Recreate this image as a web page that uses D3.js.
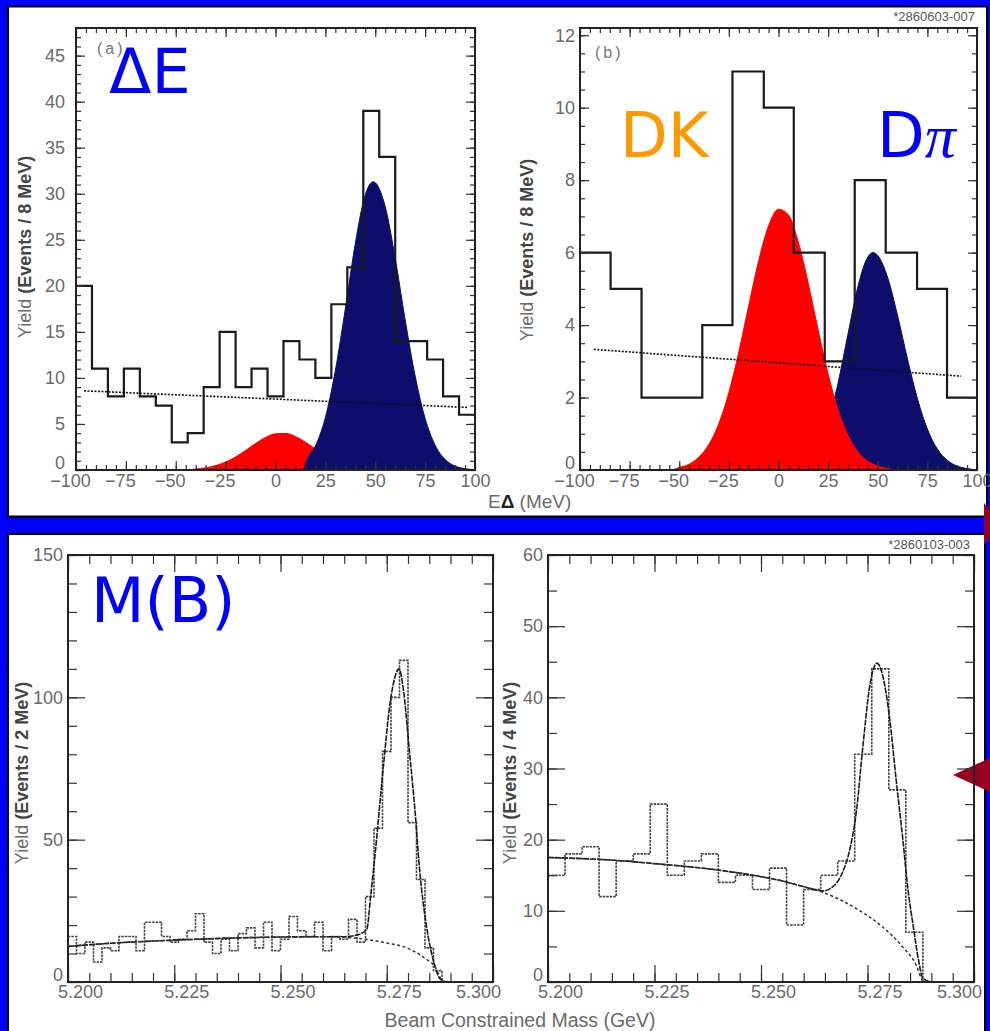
<!DOCTYPE html>
<html>
<head>
<meta charset="utf-8">
<script src="https://cdn.jsdelivr.net/npm/d3@7"></script>
<style>
body{margin:0;background:#0000ff;}
svg{display:block;}
</style>
</head>
<body>
<div id="chart"></div>
<script>
// ---- data ----

// (a) Delta E, 8 MeV bins from -100
var aLo=-100, aBin=8;
var aCounts=[20,11,8,11,8,7,3,4,9,15,9,11,8,14,12,10,18,22,39,34,14,14,12,8,6];
var aBkg=[[-96,8.6],[0,7.7],[96,6.8]];
var aDK=[[-100,0],[-45,0],[-40,0.11],[-35,0.24],[-30,0.48],[-25,0.87],[-20,1.42],[-15,2.12],[-10,2.88],[-5,3.53],[0,3.93],[5,3.97],[10,3.64],[15,3.02],[20,2.28],[25,1.56],[30,0.96],[35,0.54],[40,0.28],[45,0.12],[50,0]];
var aDpi=[[14,0],[16,1.2],[20,2.6],[25,5.7],[30,10.8],[35,17.5],[40,24.6],[45,29.9],[49,31.3],[55,28.6],[60,23.0],[65,16.3],[70,10.2],[75,5.6],[80,2.7],[85,1.15],[90,0.43],[95,0.14],[100,0.04]];

// (b) Delta E, wider bins
var bEdges=[-100,-84.6,-69,-53.9,-38.4,-23.2,-7.4,7.7,23.3,38.4,54,69.8,84.9,100];
var bCounts=[6,5,2,2,4,11,10,6,3,8,6,5,2];
var bBkg=[[-93,3.33],[92,2.59]];
var bDK=[[-100,0],[-55,0],[-50,0.07],[-45,0.16],[-40,0.36],[-35,0.71],[-30,1.29],[-25,2.14],[-20,3.26],[-15,4.54],[-10,5.78],[-5,6.74],[0,7.2],[5,7.04],[10,6.29],[15,5.15],[20,3.86],[25,2.65],[30,1.66],[35,0.96],[40,0.5],[45,0.24],[50,0.11],[55,0.04],[60,0]];
var bDpi=[[10,0],[15,0.26],[20,0.63],[25,1.32],[30,2.4],[35,3.75],[40,5.06],[45,5.88],[47.6,6.0],[50,5.92],[55,5.31],[60,4.26],[65,3.06],[70,1.97],[75,1.13],[80,0.58],[85,0.27],[90,0.11],[95,0.04],[100,0]];

// (c) beam constrained mass, 2 MeV bins from 5.200
var cLo=5.2, cBin=0.002;
var cCounts=[16,10,14,7,12,11,16,16,11,21,21,16,14,15,18,24,14,10,15,11,17,19,12,21,11,15,23,18,16,21,11,16,15,22,14,30,54,81,100,113,56,36,12,4,0,0,0,0,0,0];
var cBkg=[[5.200,12.5],[5.210,13.6],[5.220,14.4],[5.230,15.0],[5.240,15.5],[5.250,15.8],[5.260,15.9],[5.265,15.7],[5.270,15.0],[5.275,13.7],[5.280,11.8],[5.284,8.3],[5.2865,5.0],[5.2878,1.0],[5.2885,0]];
var cFit=[[5.200,12.5],[5.210,13.6],[5.220,14.4],[5.230,15.0],[5.240,15.5],[5.250,15.8],[5.260,15.9],[5.265,15.9],[5.268,16.5],[5.2703,18.5],[5.2712,30],[5.2722,44],[5.2741,74],[5.2757,97],[5.2769,107],[5.2779,110],[5.2788,104],[5.2804,80],[5.2816,61],[5.2827,40],[5.2843,20],[5.2859,8],[5.2875,1.2],[5.289,0]];

// (d) beam constrained mass, 4 MeV bins from 5.200
var dLo=5.2, dBin=0.004;
var dCounts=[15,18,19,12,17,18,25,15,17,18,14,15,13,16,8,13,15,17,32,44,27,7,0,0,0];
var dBkg=[[5.200,17.5],[5.2156,17.1],[5.2257,16.6],[5.239,15.8],[5.250,14.8],[5.255,14.2],[5.260,13.4],[5.2645,12.6],[5.2724,10.3],[5.2786,7.7],[5.2833,4.9],[5.2865,2.3],[5.2879,0.2],[5.2885,0]];
var dFit=[[5.200,17.5],[5.2156,17.1],[5.2257,16.6],[5.239,15.8],[5.250,14.8],[5.255,14.2],[5.260,13.4],[5.2645,12.8],[5.2669,13.4],[5.2692,15.5],[5.2708,18.5],[5.2724,24],[5.2739,33],[5.2755,41.5],[5.2772,44.8],[5.2786,43],[5.2802,37],[5.2818,28],[5.2833,20],[5.2845,13],[5.2857,8],[5.2870,3],[5.2880,0.5],[5.2900,0]];

// tick values
var deTicks=[-100,-75,-50,-25,0,25,50,75,100];
var mbTicks=[5.200,5.225,5.250,5.275,5.300];
var aYTicks=[0,5,10,15,20,25,30,35,40,45];
var bYTicks=[0,2,4,6,8,10,12];
var cYTicks=[0,50,100,150];
var dYTicks=[0,10,20,30,40,50,60];

// ---- drawing ----
var W=990, H=1031;
var FONT='"Liberation Sans", Arial, sans-serif';
var BIG='"DejaVu Sans", Verdana, sans-serif';
var svg=d3.select("#chart").append("svg").attr("width",W).attr("height",H);

svg.append("rect").attr("width",W).attr("height",H).attr("fill","#0000ff");
// the two white boards
svg.append("rect").attr("x",8).attr("y",6.5).attr("width",979).attr("height",510)
  .attr("fill","#fff").attr("stroke","#000").attr("stroke-width",2);
svg.append("rect").attr("x",8).attr("y",534).attr("width",977).attr("height",510)
  .attr("fill","#fff").attr("stroke","#000").attr("stroke-width",2);

// dark red arrows on the right edge
svg.append("polygon").attr("points","984,503 1000,523 984,545").attr("fill","#990022");
svg.append("polygon").attr("points","953,775 992,757 992,793").attr("fill","#990022");

function steps(lo, bin, counts){
  var pts=counts.map(function(c,i){ return [lo+i*bin, c]; });
  pts.push([lo+counts.length*bin, counts[counts.length-1]]);
  return pts;
}
function stepsEdges(edges, counts){
  var pts=counts.map(function(c,i){ return [edges[i], c]; });
  pts.push([edges[edges.length-1], counts[counts.length-1]]);
  return pts;
}

function panel(c){
  var g=svg.append("g");
  var x=d3.scaleLinear().domain(c.xDomain).range([c.left,c.right]);
  var y=d3.scaleLinear().domain(c.yDomain).range([c.bottom,c.top]);
  var line=d3.line().x(function(d){return x(d[0]);}).y(function(d){return y(d[1]);});
  var area=d3.area().x(function(d){return x(d[0]);}).y0(y(0)).y1(function(d){return y(d[1]);})
    .curve(d3.curveMonotoneX);

  (c.fills||[]).forEach(function(f){
    g.append("path").datum(f.data).attr("d",area).attr("fill",f.color)
      .attr("stroke",f.color).attr("stroke-width",1);
  });

  g.append("path").datum(c.hist).attr("d",line.curve(d3.curveStepAfter))
    .attr("fill","none").attr("stroke",c.histColor).attr("stroke-width",c.histWidth)
    .attr("stroke-dasharray",c.histDash||null);

  (c.lines||[]).forEach(function(l){
    g.append("path").datum(l.data).attr("d",line.curve(l.curve||d3.curveMonotoneX))
      .attr("fill","none").attr("stroke",l.color||"#111").attr("stroke-width",l.width||1.5)
      .attr("stroke-dasharray",l.dash||null);
  });

  function clean(s){
    s.select(".domain").remove();
    s.selectAll("line").attr("stroke","#333").attr("stroke-width",1.2);
    s.attr("font-family",FONT);
  }
  // minor ticks on all four sides, pointing in
  g.append("g").attr("transform","translate(0,"+c.bottom+")")
    .call(d3.axisBottom(x).tickValues(c.xMinor).tickSize(-c.minLen).tickFormat("")).call(clean);
  g.append("g").attr("transform","translate(0,"+c.top+")")
    .call(d3.axisTop(x).tickValues(c.xMinor).tickSize(-c.minLen).tickFormat("")).call(clean);
  g.append("g").attr("transform","translate("+c.left+",0)")
    .call(d3.axisLeft(y).tickValues(c.yMinor).tickSize(-c.minLen).tickFormat("")).call(clean);
  g.append("g").attr("transform","translate("+c.right+",0)")
    .call(d3.axisRight(y).tickValues(c.yMinor).tickSize(-c.minLen).tickFormat("")).call(clean);
  // major ticks
  g.append("g").attr("transform","translate(0,"+c.top+")")
    .call(d3.axisTop(x).tickValues(c.xMajor).tickSize(-c.majLen).tickFormat("")).call(clean);
  g.append("g").attr("transform","translate("+c.right+",0)")
    .call(d3.axisRight(y).tickValues(c.yMajor).tickSize(-c.majLen).tickFormat("")).call(clean);
  var xb=g.append("g").attr("transform","translate(0,"+c.bottom+")")
    .call(d3.axisBottom(x).tickValues(c.xMajor).tickSize(-c.majLen).tickPadding(c.xPad).tickFormat(c.xFmt))
    .call(clean);
  xb.selectAll("text").attr("font-size",18).attr("fill","#6a6a6a").attr("dx",c.xDx);
  var yl=g.append("g").attr("transform","translate("+c.left+",0)")
    .call(d3.axisLeft(y).tickValues(c.yMajor).tickSize(-c.majLen).tickPadding(c.yPad))
    .call(clean);
  yl.selectAll("text").attr("font-size",18).attr("fill","#6a6a6a")
    .attr("y",function(d){ return d===0 ? -7 : 0; });

  g.append("rect").attr("x",c.left).attr("y",c.top)
    .attr("width",c.right-c.left).attr("height",c.bottom-c.top)
    .attr("fill","none").attr("stroke","#222").attr("stroke-width",2);

  // y title
  var yt=g.append("text").attr("transform","translate("+c.yTitleX+","+c.yTitleY+") rotate(-90)")
    .attr("text-anchor","middle").attr("dy","0.35em").attr("font-family",FONT).attr("font-size",18);
  yt.append("tspan").attr("fill","#6a6a6a").text("Yield ");
  yt.append("tspan").attr("fill","#444").attr("font-weight","bold").text(c.yUnit);
  return g;
}

function deLabel(d){ return d<0 ? "\u2212"+(-d) : String(d); }
function deDx(d){ return d<0 ? -6 : 0; }
var mbFmt=d3.format(".3f");
function mbDx(d){ return d>5.29 ? -15 : 12; }

var topTick={majLen:9, minLen:5, xPad:4, histColor:"#1a1a1a", histWidth:2.2,
  xMinor:d3.range(-100,101,5), xMajor:deTicks, xFmt:deLabel, xDx:deDx};
var botTick={majLen:17, minLen:9, xPad:3, histColor:"#444", histWidth:1.6, histDash:"2.5,1",
  xMinor:d3.range(0,21).map(function(i){return 5.2+i*0.005;}), xMajor:mbTicks, xFmt:mbFmt,
  xDx:mbDx};

panel(Object.assign({}, topTick, {
  left:76, right:475, top:28, bottom:470, xDomain:[-100,100], yDomain:[0,48],
  yMinor:d3.range(0,49,1), yMajor:aYTicks, yPad:11,
  hist:steps(aLo,aBin,aCounts),
  fills:[{data:aDK,color:"#ff0000"},{data:aDpi,color:"#0d0d6b"}],
  lines:[{data:aBkg,dash:"2,1.5",width:1.6,curve:d3.curveLinear}],
  yTitleX:25, yTitleY:247, yUnit:"(Events / 8 MeV)"
}));
panel(Object.assign({}, topTick, {
  left:580, right:977, top:28, bottom:470, xDomain:[-100,100], yDomain:[0,12.2],
  yMinor:d3.range(0,12.2,0.5), yMajor:bYTicks, yPad:5,
  hist:stepsEdges(bEdges,bCounts),
  fills:[{data:bDpi,color:"#0d0d6b"},{data:bDK,color:"#ff0000"}],
  lines:[{data:bBkg,dash:"2,1.5",width:1.6,curve:d3.curveLinear}],
  yTitleX:527, yTitleY:250, yUnit:"(Events / 8 MeV)"
}));
panel(Object.assign({}, botTick, {
  left:68, right:493, top:555, bottom:982, xDomain:[5.2,5.3], yDomain:[0,150],
  yMinor:d3.range(0,151,10), yMajor:cYTicks, yPad:5,
  hist:steps(cLo,cBin,cCounts),
  lines:[{data:cFit,color:"#1a1a1a",width:1.6,dash:"6,1"},{data:cBkg,color:"#333",width:1.5,dash:"3,2.5"}],
  yTitleX:22, yTitleY:773, yUnit:"(Events / 2 MeV)"
}));
panel(Object.assign({}, botTick, {
  left:548, right:974, top:555, bottom:982, xDomain:[5.2,5.3], yDomain:[0,60],
  yMinor:d3.range(0,61,5), yMajor:dYTicks, yPad:5,
  hist:steps(dLo,dBin,dCounts),
  lines:[{data:dFit,color:"#1a1a1a",width:1.6,dash:"6,1"},{data:dBkg,color:"#333",width:1.5,dash:"3,2.5"}],
  yTitleX:510, yTitleY:773, yUnit:"(Events / 4 MeV)"
}));

// axis titles
var xt=svg.append("text").attr("x",488).attr("y",508).attr("font-family",FONT).attr("font-size",19);
xt.append("tspan").attr("fill","#6a6a6a").text("E");
xt.append("tspan").attr("fill","#222").attr("font-weight","bold").text("\u0394");
xt.append("tspan").attr("fill","#6a6a6a").text(" (MeV)");
svg.append("text").attr("x",520).attr("y",1027).attr("text-anchor","middle")
  .attr("font-family",FONT).attr("font-size",19.5).attr("fill","#6a6a6a")
  .text("Beam Constrained Mass (GeV)");

// panel tags and plot ids
svg.append("text").attr("x",97).attr("y",54).attr("font-family",FONT).attr("font-size",16)
  .attr("fill","#777").attr("letter-spacing",3).text("(a)");
svg.append("text").attr("x",595).attr("y",58).attr("font-family",FONT).attr("font-size",16)
  .attr("fill","#777").attr("letter-spacing",3).text("(b)");
svg.append("text").attr("x",975).attr("y",21).attr("text-anchor","end").attr("font-family",FONT)
  .attr("font-size",13).attr("fill","#555").text("*2860603-007");
svg.append("text").attr("x",970).attr("y",549).attr("text-anchor","end").attr("font-family",FONT)
  .attr("font-size",13).attr("fill","#555").text("*2860103-003");

// big coloured labels
svg.append("text").attr("x",109).attr("y",93).attr("font-family",BIG).attr("font-size",62)
  .attr("fill","#0000ff").text("\u0394E");
svg.append("text").attr("x",91).attr("y",622).attr("font-family",BIG).attr("font-size",62)
  .attr("fill","#0000ff").text("M(B)");
svg.append("text").attr("x",620).attr("y",157).attr("font-family",BIG).attr("font-size",62)
  .attr("fill","#ff9900").text("DK");
var dpi=svg.append("text").attr("x",877).attr("y",157).attr("font-family",BIG).attr("font-size",62)
  .attr("fill","#0000ff");
dpi.append("tspan").text("D");
dpi.append("tspan").attr("font-family",'"Liberation Serif", serif').attr("font-style","italic").text("\u03c0");
</script>
</body>
</html>
